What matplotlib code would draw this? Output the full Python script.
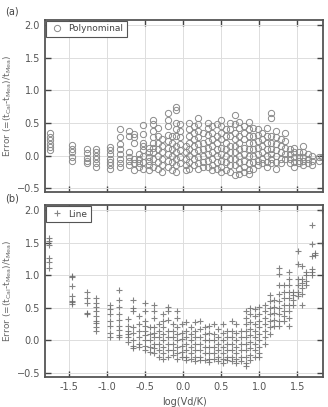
import numpy as np
import matplotlib
matplotlib.use("Agg")
import matplotlib.pyplot as plt

# column positions (log(Vd/K)) and errors
# (a) polynomial fit
cols_a = [-1.75, -1.46, -1.27, -1.15, -0.97, -0.83, -0.72, -0.65, -0.58, -0.53,
          -0.45, -0.40, -0.33, -0.28, -0.20, -0.15, -0.10, -0.04, 0.03, 0.08,
          0.14, 0.20, 0.26, 0.32, 0.38, 0.44, 0.50, 0.56, 0.62, 0.68,
          0.74, 0.80, 0.86, 0.92, 0.98, 1.04, 1.10, 1.16, 1.22, 1.28,
          1.34, 1.40, 1.46, 1.52, 1.58, 1.64, 1.70, 1.78, 1.83]
err_a = [
    [0.08, 0.13, 0.18, 0.24, 0.29, 0.34],
    [0.16, 0.10, 0.05, -0.02, -0.08],
    [0.10, 0.04, -0.03, -0.08, -0.12],
    [0.10, 0.05, 0.0, -0.05, -0.12, -0.18],
    [0.13, 0.08, 0.02, -0.05, -0.10, -0.15, -0.20],
    [0.40, 0.28, 0.18, 0.10, 0.02, -0.05, -0.12, -0.18],
    [0.38, 0.30, 0.05, -0.02, -0.08, -0.15],
    [0.33, 0.28, 0.20, -0.05, -0.12, -0.22],
    [0.02, -0.05, -0.12, -0.18],
    [0.47, 0.33, 0.20, 0.15, 0.08, 0.0, -0.10, -0.20],
    [0.12, 0.05, -0.02, -0.08, -0.15, -0.22],
    [0.55, 0.48, 0.38, 0.28, 0.20, 0.12, 0.05, -0.05, -0.18],
    [0.42, 0.30, 0.20, 0.10, 0.0, -0.10, -0.20],
    [0.25, 0.15, 0.05, -0.05, -0.15, -0.25],
    [0.65, 0.55, 0.45, 0.32, 0.22, 0.12, 0.02, -0.08, -0.18],
    [0.30, 0.20, 0.10, 0.0, -0.10, -0.22],
    [0.75, 0.70, 0.50, 0.40, 0.30, 0.15, 0.05, -0.05, -0.15, -0.25],
    [0.48, 0.38, 0.28, 0.18, 0.08, -0.02, -0.12],
    [0.15, 0.05, -0.05, -0.15, -0.22],
    [0.50, 0.40, 0.30, 0.20, 0.10, 0.0, -0.10, -0.20],
    [0.45, 0.35, 0.25, 0.15, 0.05, -0.05, -0.15],
    [0.58, 0.48, 0.38, 0.28, 0.18, 0.08, -0.02, -0.12, -0.20],
    [0.35, 0.20, 0.10, 0.0, -0.10, -0.18],
    [0.50, 0.42, 0.32, 0.22, 0.12, 0.02, -0.08, -0.18],
    [0.45, 0.35, 0.25, 0.15, 0.05, -0.05, -0.15, -0.22],
    [0.48, 0.30, 0.20, 0.10, 0.0, -0.10, -0.20],
    [0.55, 0.45, 0.35, 0.25, 0.12, 0.02, -0.08, -0.18, -0.25],
    [0.40, 0.30, 0.20, 0.10, 0.0, -0.10, -0.22],
    [0.50, 0.40, 0.30, 0.15, 0.05, -0.05, -0.15, -0.25],
    [0.62, 0.48, 0.35, 0.25, 0.15, 0.05, -0.05, -0.15, -0.30],
    [0.52, 0.42, 0.30, 0.20, 0.10, 0.0, -0.10, -0.20, -0.28],
    [0.45, 0.35, 0.25, 0.12, 0.02, -0.08, -0.18, -0.25],
    [0.52, 0.40, 0.30, 0.20, 0.10, 0.0, -0.12, -0.22, -0.28],
    [0.42, 0.30, 0.20, 0.10, 0.0, -0.10, -0.20],
    [0.40, 0.32, 0.22, 0.12, 0.02, -0.08, -0.15],
    [0.35, 0.25, 0.15, 0.05, -0.05, -0.12],
    [0.42, 0.30, 0.20, 0.10, 0.0, -0.10, -0.18],
    [0.65, 0.57, 0.30, 0.20, 0.10, 0.02, -0.05, -0.12],
    [0.38, 0.28, 0.18, 0.08, 0.0, -0.10, -0.20],
    [0.25, 0.15, 0.05, -0.05, -0.12],
    [0.35, 0.22, 0.12, 0.02, -0.05],
    [0.10, 0.02, -0.05, -0.12],
    [0.12, 0.05, -0.02, -0.10, -0.18],
    [0.05, -0.02, -0.08, -0.12],
    [0.15, 0.05, -0.02, -0.08, -0.15],
    [0.02, -0.05, -0.12],
    [0.0, -0.08, -0.15],
    [-0.02, -0.08],
    [-0.02],
]

# (b) line fit
cols_b = [-1.77, -1.46, -1.27, -1.15, -0.97, -0.85, -0.73, -0.66, -0.58, -0.50,
          -0.44, -0.38, -0.32, -0.26, -0.20, -0.14, -0.08, -0.02, 0.04, 0.10,
          0.16, 0.22, 0.28, 0.34, 0.40, 0.46, 0.52, 0.58, 0.64, 0.70,
          0.76, 0.82, 0.88, 0.94, 1.00, 1.08, 1.14, 1.20, 1.26, 1.32,
          1.39, 1.45, 1.51, 1.56, 1.62, 1.69, 1.74, 1.82]
err_b = [
    [1.58, 1.53, 1.46, 1.27, 1.20, 1.12],
    [0.99, 0.97, 0.84, 0.69, 0.61, 0.59, 0.56],
    [0.75, 0.65, 0.58, 0.42, 0.40],
    [0.65, 0.58, 0.52, 0.45, 0.38, 0.30, 0.27, 0.20, 0.15],
    [0.55, 0.48, 0.40, 0.30, 0.22, 0.12, 0.06],
    [0.77, 0.62, 0.52, 0.40, 0.32, 0.22, 0.16, 0.08, 0.06],
    [0.33, 0.22, 0.15, 0.10, 0.05, -0.02],
    [0.62, 0.50, 0.46, 0.20, 0.12, 0.0, -0.08, -0.12],
    [0.38, 0.25, 0.15, 0.05, -0.05, -0.10],
    [0.57, 0.45, 0.30, 0.22, 0.15, 0.08, 0.0, -0.08, -0.15],
    [0.20, 0.10, 0.0, -0.10, -0.18],
    [0.55, 0.45, 0.35, 0.20, 0.12, 0.05, -0.05, -0.12, -0.20],
    [0.25, 0.15, 0.05, -0.05, -0.15, -0.25],
    [0.40, 0.30, 0.20, 0.10, 0.0, -0.10, -0.20, -0.28],
    [0.52, 0.45, 0.32, 0.15, 0.05, -0.05, -0.15, -0.25],
    [0.25, 0.15, 0.05, -0.05, -0.15, -0.22],
    [0.45, 0.35, 0.20, 0.10, 0.0, -0.10, -0.20, -0.28],
    [0.25, 0.12, 0.02, -0.08, -0.18, -0.25],
    [0.28, 0.15, 0.05, -0.05, -0.15, -0.25, -0.30],
    [0.20, 0.10, 0.0, -0.10, -0.20, -0.28],
    [0.28, 0.15, 0.05, -0.05, -0.15, -0.25, -0.32],
    [0.30, 0.18, 0.05, -0.05, -0.15, -0.25, -0.30],
    [0.20, 0.10, 0.0, -0.10, -0.20, -0.30],
    [0.22, 0.12, 0.0, -0.10, -0.20, -0.28, -0.33],
    [0.25, 0.10, 0.0, -0.10, -0.20, -0.28],
    [0.18, 0.05, -0.05, -0.15, -0.25, -0.32],
    [0.25, 0.12, 0.0, -0.10, -0.20, -0.28, -0.35],
    [0.15, 0.05, -0.05, -0.15, -0.25, -0.30],
    [0.30, 0.15, 0.05, -0.05, -0.15, -0.25, -0.32],
    [0.25, 0.12, 0.0, -0.10, -0.20, -0.28, -0.35],
    [0.15, 0.05, -0.05, -0.15, -0.25, -0.32],
    [0.45, 0.35, 0.25, 0.15, 0.05, -0.05, -0.15, -0.25, -0.35, -0.40],
    [0.50, 0.40, 0.28, 0.18, 0.08, -0.02, -0.12, -0.22, -0.30],
    [0.48, 0.38, 0.25, 0.15, 0.05, -0.05, -0.15, -0.25],
    [0.52, 0.40, 0.30, 0.20, 0.10, 0.0, -0.10, -0.20, -0.25],
    [0.55, 0.45, 0.35, 0.25, 0.15, 0.05, -0.05],
    [0.70, 0.60, 0.50, 0.40, 0.30, 0.20, 0.10],
    [0.62, 0.52, 0.42, 0.32, 0.22],
    [1.12, 1.02, 0.85, 0.72, 0.60, 0.50, 0.40, 0.30, 0.22],
    [0.85, 0.75, 0.65, 0.55, 0.45, 0.38, 0.30],
    [1.05, 0.95, 0.85, 0.75, 0.65, 0.55, 0.45, 0.35, 0.22],
    [0.75, 0.70, 0.62, 0.55],
    [1.38, 1.18, 0.95, 0.85, 0.75, 0.68],
    [1.15, 0.95, 0.88, 0.80, 0.72, 0.55],
    [1.05, 1.0, 0.92, 0.85],
    [1.78, 1.48, 1.30, 1.10, 1.05, 1.00],
    [1.35, 1.32],
    [2.0, 1.50],
]

xticks = [-1.5, -1.0, -0.5, 0.0, 0.5, 1.0, 1.5]
yticks = [-0.5, 0.0, 0.5, 1.0, 1.5, 2.0]


def flatten(cols, errs):
    x, y = [], []
    for c, e in zip(cols, errs):
        x += [c] * len(e)
        y += e
    return np.array(x), np.array(y)


xa, ya = flatten(cols_a, err_a)
xb, yb = flatten(cols_b, err_b)

plt.rcParams['font.family'] = 'DejaVu Sans'
fig = plt.figure(figsize=(3.28, 4.07), dpi=100)
ax1 = fig.add_axes([0.137, 0.528, 0.848, 0.423])
ax2 = fig.add_axes([0.137, 0.074, 0.848, 0.422])

ylab = r'Error (=(t$_{\rm Cal}$-t$_{\rm Mea}$)/t$_{\rm Mea}$)'

for ax in (ax1, ax2):
    ax.set_xlim(-1.82, 1.84)
    ax.set_ylim(-0.56, 2.08)
    ax.set_xticks(xticks)
    ax.set_yticks(yticks)
    ax.grid(True, color='#dddddd', linewidth=0.7)
    ax.set_axisbelow(True)
    ax.tick_params(direction='in', top=True, right=True, length=4,
                   width=1.0, colors='#444444', labelsize=7, labelcolor='#555555')
    for s in ax.spines.values():
        s.set_color('#555555')
        s.set_linewidth(1.3)
    ax.set_ylabel(ylab, fontsize=6.5, color='#666666', labelpad=2)

ax1.tick_params(labelbottom=False)

ax1.plot(xa, ya, 'o', linestyle='none', markersize=4.5, markerfacecolor='none',
         markeredgecolor='#8a8a8a', markeredgewidth=0.7, label='Polynominal')
ax2.plot(xb, yb, '+', linestyle='none', markersize=4.5, color='#666666',
         markeredgewidth=0.8, alpha=0.8, label='Line')

for ax in (ax1, ax2):
    leg = ax.legend(loc='upper left', fontsize=6.5, fancybox=False, framealpha=1,
                    borderpad=0.35, handletextpad=0.5, handlelength=1.6,
                    borderaxespad=0.15)
    leg.get_frame().set_edgecolor('#555555')
    leg.get_frame().set_linewidth(0.8)
    for t in leg.get_texts():
        t.set_color('#444444')

ax2.set_xticklabels(['-1.5', '-1.0', '-0.5', '0.0', '0.5', '1.0', '1.5'])
ax2.set_xlabel('log(Vd/K)', fontsize=7, color='#555555', labelpad=4)

fig.text(0.015, 0.965, '(a)', fontsize=7, color='#444444')
fig.text(0.015, 0.505, '(b)', fontsize=7, color='#444444')

fig.savefig('out.png', dpi=100)
